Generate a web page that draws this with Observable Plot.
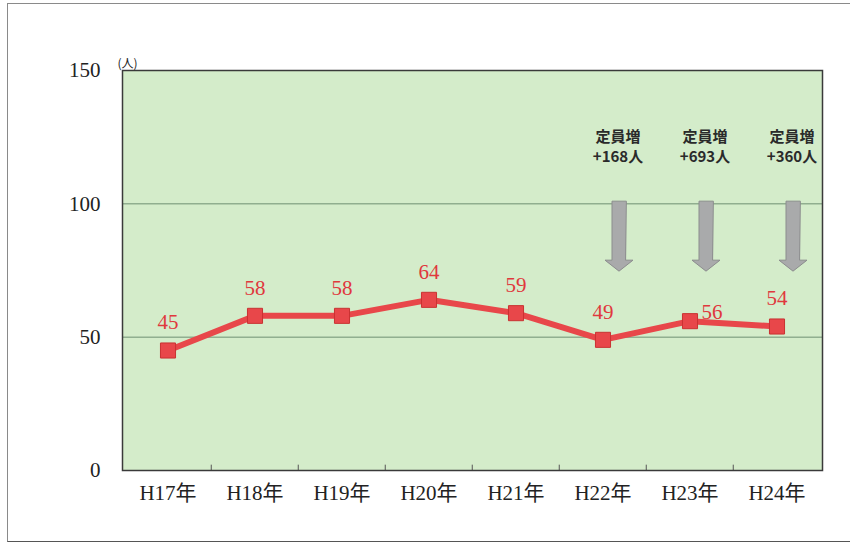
<!DOCTYPE html>
<html>
<head>
<meta charset="utf-8">
<script src="https://cdn.jsdelivr.net/npm/d3@7"></script>
<script src="https://cdn.jsdelivr.net/npm/@observablehq/plot@0.6"></script>
<style>
  html, body { margin: 0; padding: 0; background: #fff; }
  #wrap { position: relative; width: 850px; height: 544px; overflow: hidden; }
  #border { position: absolute; left: 7px; top: 3px; width: 900px; height: 537px;
            border-left: 1.5px solid #8a8a8a; border-top: 1.5px solid #8a8a8a; border-bottom: 1.5px solid #555; }
  #chart { position: absolute; left: 0; top: 0; }
</style>
</head>
<body>
<div id="wrap"><div id="border"></div><div id="chart"></div></div>
<script>
const years = ["H17年", "H18年", "H19年", "H20年", "H21年", "H22年", "H23年", "H24年"];
const counts = [45, 58, 58, 64, 59, 49, 56, 54];
const yTicks = [0, 50, 100, 150];
const gridValues = [50, 100];
const noteYears = ["H22年", "H23年", "H24年"];
const noteTitles = ["定員増", "定員増", "定員増"];
const noteAmounts = ["+168人", "+693人", "+360人"];
const arrowTop = 101;
const noteLevel = 121;

const data = years.map((y, i) => ({year: y, value: counts[i]}));
const notes = noteYears.map((y, i) => ({year: y, title: noteTitles[i], amount: noteAmounts[i], top: arrowTop, level: noteLevel}));

const serif = "'Liberation Serif', 'DejaVu Serif', 'Noto Sans CJK JP', serif";
const cjk = "'Noto Sans CJK JP', sans-serif";
const red = "#e8474a";

const blockArrow = {
  draw(context, l, r) {
    const sw = 7, hw = 14, hh = 11;
    context.moveTo(-sw, 0);
    context.lineTo(sw, 0);
    context.lineTo(sw, -(l - hh));
    context.lineTo(hw, -(l - hh));
    context.lineTo(0, -l);
    context.lineTo(-hw, -(l - hh));
    context.lineTo(-sw, -(l - hh));
    context.closePath();
  }
};

const chart = Plot.plot({
  width: 850,
  height: 544,
  marginLeft: 122,
  marginRight: 28,
  marginTop: 70,
  marginBottom: 74,
  style: {background: "transparent", fontFamily: serif},
  x: {type: "band", domain: years, padding: 0, label: null},
  y: {domain: [0, 150], label: null},
  marks: [
    Plot.frame({fill: "#d4ecca", stroke: null}),
    Plot.ruleY(gridValues, {stroke: "#6f8f72", strokeWidth: 1}),
    Plot.ruleX(years.slice(1), {x: d => d, dx: -87.5 / 2, y1: 0, y2: 2, stroke: "#555", strokeWidth: 1}),
    Plot.frame({stroke: "#3a3a3a", strokeWidth: 1.5}),
    Plot.axisY({ticks: yTicks, tickSize: 0, tickPadding: 22, fontSize: 21, fill: "#222", fontFamily: serif}),
    Plot.axisX({tickSize: 0, tickPadding: 15, fontSize: 21, fill: "#222", fontFamily: serif}),
    Plot.text(["(人)"], {frameAnchor: "top-left", dx: -5, dy: -11, fontSize: 12, fill: "#222", fontFamily: cjk}),
    Plot.vector(notes, {x: "year", y: "top", dx: 16, anchor: "start", rotate: 180, length: 70,
      shape: blockArrow, fill: "#a9aaab", stroke: "#8c8d8e", strokeWidth: 1}),
    Plot.text(notes, {x: "year", y: "level", text: "title", dx: 15, dy: -11, fontSize: 15, fontWeight: "bold",
      fill: "#2a2a2a", fontFamily: cjk}),
    Plot.text(notes, {x: "year", y: "level", text: "amount", dx: 15, dy: 9, fontSize: 15, fontWeight: "bold",
      fill: "#2a2a2a", fontFamily: cjk}),
    Plot.line(data, {x: "year", y: "value", stroke: red, strokeWidth: 6}),
    Plot.dot(data, {x: "year", y: "value", symbol: "square", r: 8.5, fill: red, stroke: "#c93232", strokeWidth: 1}),
    Plot.text(data.filter(d => d.year !== "H23年"), {x: "year", y: "value", text: d => String(d.value), dy: -28,
      fontSize: 21, fill: "#e0383d", fontFamily: serif}),
    Plot.text(data.filter(d => d.year === "H23年"), {x: "year", y: "value", text: d => String(d.value), dx: 22, dy: -9,
      fontSize: 21, fill: "#e0383d", fontFamily: serif})
  ]
});
document.getElementById("chart").appendChild(chart);
</script>
</body>
</html>
